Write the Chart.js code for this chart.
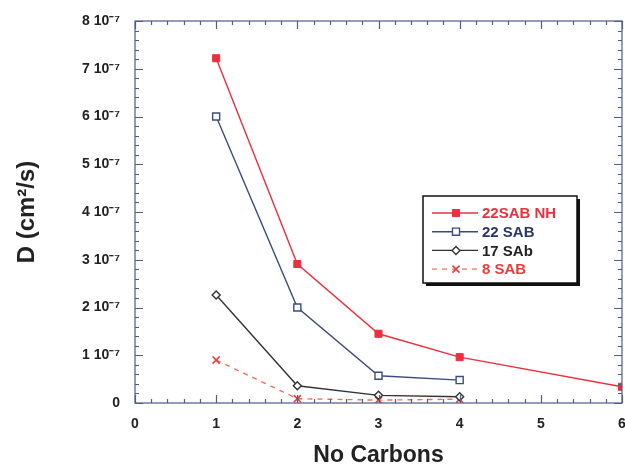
<!DOCTYPE html>
<html>
<head>
<meta charset="utf-8">
<script src="https://cdn.jsdelivr.net/npm/chart.js@4/dist/chart.umd.min.js"></script>
<style>
  html, body { margin: 0; padding: 0; background: #ffffff; }
  #wrap { width: 625px; height: 467px; }
</style>
</head>
<body>
<div id="wrap"><canvas id="c" width="625" height="467"></canvas></div>
<script>
// Diffusion coefficient D (cm^2/s) against number of carbons
const carbonsNH22 = [1, 2, 3, 4, 6];
const dNH22 = [7.22e-7, 2.91e-7, 1.45e-7, 0.96e-7, 0.34e-7];

const carbons22 = [1, 2, 3, 4];
const d22 = [6.0e-7, 2.0e-7, 0.57e-7, 0.48e-7];

const carbons17 = [1, 2, 3, 4];
const d17 = [2.26e-7, 0.36e-7, 0.16e-7, 0.13e-7];

const carbons8 = [1, 2, 3, 4];
const d8 = [0.90e-7, 0.09e-7, 0.06e-7, 0.08e-7];

const seriesNames = ['22SAB NH', '22 SAB', '17 SAb', '8 SAB'];
const xTicks = [0, 1, 2, 3, 4, 5, 6];
const yTickExp = '10\u207B\u2077';

const FONT = '"Liberation Sans", Arial, Helvetica, sans-serif';
const pts = (xs, ys) => xs.map((x, i) => ({ x: x, y: ys[i] }));

// Inward tick marks on all four sides, the plot frame and the x tick numbers
const framePlugin = {
  id: 'frame',
  afterDatasetsDraw(chart) {
    const { ctx, chartArea: a, scales: { x, y } } = chart;
    ctx.save();
    ctx.strokeStyle = '#4f5d86';
    ctx.lineWidth = 1.2;
    ctx.strokeRect(a.left, a.top, a.right - a.left, a.bottom - a.top);
    ctx.beginPath();
    for (let i = 0; i <= 30; i++) {
      const v = i * 0.2;
      const px = Math.round(x.getPixelForValue(v)) + 0.5;
      const len = (i % 5 === 0) ? 8 : 4;
      ctx.moveTo(px, a.bottom); ctx.lineTo(px, a.bottom - len);
      ctx.moveTo(px, a.top); ctx.lineTo(px, a.top + len);
    }
    for (let i = 0; i <= 40; i++) {
      const v = i * 0.2e-7;
      const py = Math.round(y.getPixelForValue(v)) + 0.5;
      const len = (i % 5 === 0) ? 8 : 4;
      ctx.moveTo(a.left, py); ctx.lineTo(a.left + len, py);
      ctx.moveTo(a.right, py); ctx.lineTo(a.right - len, py);
    }
    ctx.stroke();
    ctx.fillStyle = '#222';
    ctx.font = 'bold 14px ' + FONT;
    ctx.textAlign = 'center';
    ctx.textBaseline = 'middle';
    xTicks.forEach(v => ctx.fillText(String(v), x.getPixelForValue(v), a.bottom + 21));
    ctx.restore();
  }
};

// Boxed key inside the plot, drawn from each dataset's own styling
const keyPlugin = {
  id: 'keyBox',
  afterDraw(chart) {
    const { ctx } = chart;
    const bx = 423, by = 196, bw = 154, bh = 87;
    ctx.save();
    ctx.fillStyle = '#111';
    ctx.fillRect(bx + 3, by + 3, bw, bh);
    ctx.fillStyle = '#ffffff';
    ctx.fillRect(bx, by, bw, bh);
    ctx.strokeStyle = '#111';
    ctx.lineWidth = 1.5;
    ctx.strokeRect(bx, by, bw, bh);
    ctx.font = 'bold 15px ' + FONT;
    ctx.textBaseline = 'middle';
    chart.data.datasets.forEach((ds, i) => {
      const ry = 213 + i * 18.7;
      ctx.strokeStyle = ds.borderColor;
      ctx.lineWidth = ds.borderWidth;
      ctx.setLineDash(ds.borderDash || []);
      ctx.beginPath();
      ctx.moveTo(432, ry); ctx.lineTo(478, ry);
      ctx.stroke();
      ctx.setLineDash([]);
      ctx.fillStyle = ds.pointBackgroundColor;
      ctx.strokeStyle = ds.pointBorderColor;
      ctx.lineWidth = ds.pointBorderWidth;
      Chart.helpers.drawPoint(ctx, {
        pointStyle: ds.pointStyle, radius: ds.pointRadius,
        rotation: 0, borderWidth: ds.pointBorderWidth
      }, 456, ry);
      ctx.fillStyle = ds.keyTextColor;
      ctx.fillText(ds.label, 482, ry + 1);
    });
    ctx.restore();
  }
};

new Chart(document.getElementById('c'), {
  type: 'line',
  data: {
    datasets: [
      {
        label: seriesNames[0], data: pts(carbonsNH22, dNH22),
        borderColor: '#ec2f3f', borderWidth: 1.4,
        pointStyle: 'rect', pointRadius: 5,
        pointBackgroundColor: '#ec2f3f', pointBorderColor: '#ec2f3f', pointBorderWidth: 1,
        keyTextColor: '#ec2f3f'
      },
      {
        label: seriesNames[1], data: pts(carbons22, d22),
        borderColor: '#3c4c7e', borderWidth: 1.4,
        pointStyle: 'rect', pointRadius: 5,
        pointBackgroundColor: '#ffffff', pointBorderColor: '#3c4c7e', pointBorderWidth: 1.4,
        keyTextColor: '#2b3566'
      },
      {
        label: seriesNames[2], data: pts(carbons17, d17),
        borderColor: '#333333', borderWidth: 1.4,
        pointStyle: 'rectRot', pointRadius: 4,
        pointBackgroundColor: '#ffffff', pointBorderColor: '#333333', pointBorderWidth: 1.4,
        keyTextColor: '#222222'
      },
      {
        label: seriesNames[3], data: pts(carbons8, d8),
        borderColor: '#f2705e', borderWidth: 1.4, borderDash: [5, 5],
        pointStyle: 'crossRot', pointRadius: 5,
        pointBackgroundColor: '#ee3a3a', pointBorderColor: '#ee3a3a', pointBorderWidth: 1.6,
        keyTextColor: '#ee3a3a'
      }
    ]
  },
  options: {
    responsive: false,
    animation: false,
    layout: { autoPadding: false, padding: { left: 0, right: 3, top: 21, bottom: 0 } },
    plugins: { legend: { display: false }, tooltip: { enabled: false } },
    elements: { line: { tension: 0 } },
    scales: {
      x: {
        type: 'linear', min: 0, max: 6,
        afterFit(s) { s.height = 64; },
        afterBuildTicks(s) { s.ticks = xTicks.map(v => ({ value: v })); },
        grid: { display: false, drawTicks: false },
        border: { display: false },
        ticks: { display: false },
        title: {
          display: true, text: 'No Carbons', color: '#222',
          font: { family: FONT, size: 23, weight: 'bold', lineHeight: 1 },
          padding: { top: 0, bottom: 0 }
        }
      },
      y: {
        type: 'linear', min: 0, max: 8e-7,
        afterFit(s) { s.width = 135; s.paddingTop = 0; s.paddingBottom = 0; },
        afterBuildTicks(s) {
          const t = [];
          for (let i = 0; i <= 8; i++) t.push({ value: i * 1e-7 });
          s.ticks = t;
        },
        grid: { display: false, drawTicks: false },
        border: { display: false },
        ticks: {
          padding: 15, color: '#222',
          font: { family: FONT, size: 14, weight: 'bold' },
          callback: v => {
            const n = Math.round(v / 1e-7);
            return n === 0 ? '0' : n + ' ' + yTickExp;
          }
        },
        title: {
          display: true, text: 'D (cm\u00B2/s)', color: '#222',
          font: { family: FONT, size: 24, weight: 'bold', lineHeight: 1.2 },
          padding: { top: 13, bottom: 0 }
        }
      }
    }
  },
  plugins: [framePlugin, keyPlugin]
});
</script>
</body>
</html>
